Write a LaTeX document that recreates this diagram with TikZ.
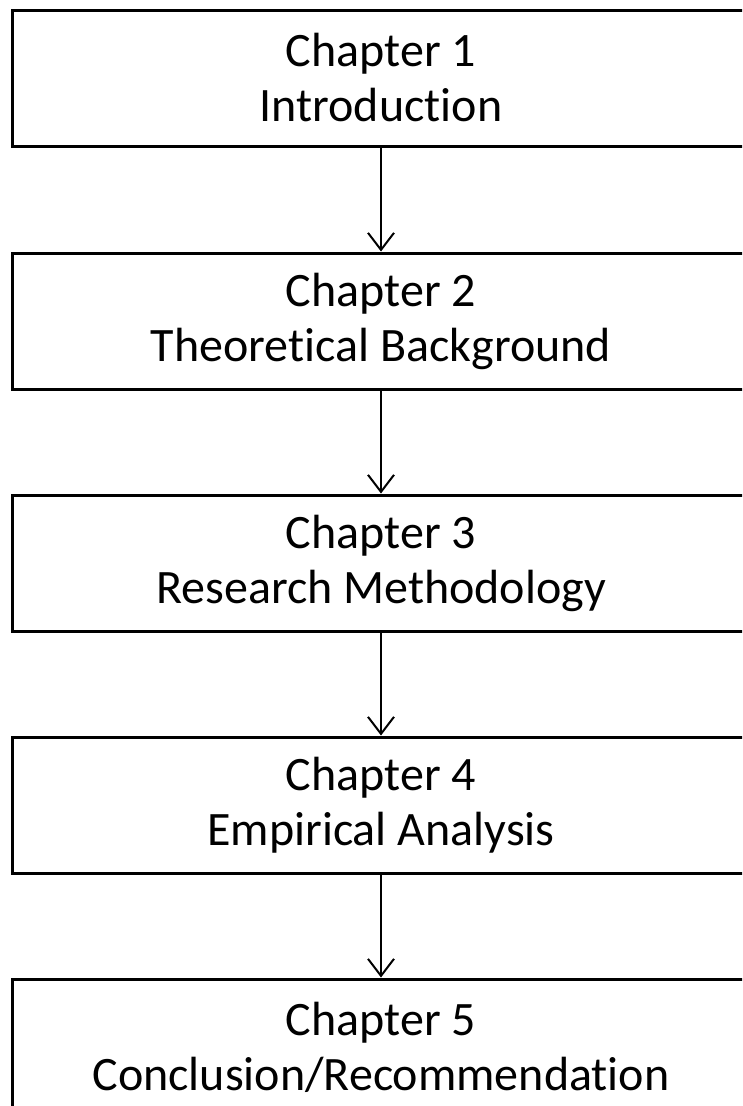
\documentclass[tikz,border=0pt]{standalone}
\usepackage{fontspec}
\setmainfont[RawFeature=-liga]{Carlito}
\usetikzlibrary{arrows.meta}
\begin{document}
\begin{tikzpicture}[x=1pt,y=-1pt,
  chapbox/.style={draw=black, line width=3pt, fill=white, rectangle,
    minimum width=738pt, minimum height=136pt, inner sep=0pt, align=center,
    font=\fontsize{48}{55}\selectfont},
  flow/.style={line width=2pt, -{Straight Barb[length=17pt,width=26pt,line width=2pt]}}]
\useasboundingbox (0,0) rectangle (742,1106);
\clip (0,0) rectangle (742,1106);
\node[chapbox] (c1) at (381,78)  {Chapter 1\\Introduction};
\node[chapbox] (c2) at (381,321) {Chapter 2\\Theoretical Background};
\node[chapbox] (c3) at (381,563) {Chapter 3\\Research Methodology};
\node[chapbox] (c4) at (381,805) {Chapter 4\\Empirical Analysis};
\node[chapbox] (c5) at (381,1047) {Chapter 5\\Conclusion/Recommendation};
\draw[flow] (c1.south) -- (c2.north);
\draw[flow] (c2.south) -- (c3.north);
\draw[flow] (c3.south) -- (c4.north);
\draw[flow] (c4.south) -- (c5.north);
\end{tikzpicture}
\end{document}
